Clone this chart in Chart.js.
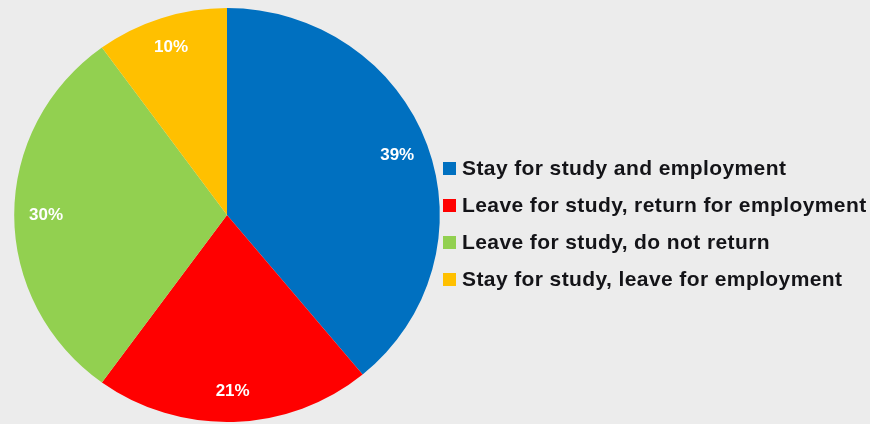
<!DOCTYPE html>
<html>
<head>
<meta charset="utf-8">
<script src="https://cdn.jsdelivr.net/npm/chart.js@4/dist/chart.umd.min.js"></script>
<style>
html,body{margin:0;padding:0;background:#ececec;}
#wrap{width:870px;height:424px;position:relative;}
</style>
</head>
<body>
<div id="wrap"><canvas id="c" width="870" height="424"></canvas></div>
<script>
const categories = [
  "Stay for study and employment",
  "Leave for study, return for employment",
  "Leave for study, do not return",
  "Stay for study, leave for employment"
];
const shares = [39, 21, 30, 10];
const sliceColors = ["#0070C0", "#FF0000", "#92D050", "#FFC000"];

const XSTRETCH = 1.028;

const pieStretch = {
  id: 'pieStretch',
  beforeDatasetsDraw(chart) {
    const ctx = chart.ctx;
    const a = chart.chartArea;
    const cx = (a.left + a.right) / 2;
    ctx.save();
    ctx.translate(cx, 0);
    ctx.scale(XSTRETCH, 1);
    ctx.translate(-cx, 0);
  },
  afterDatasetsDraw(chart) {
    const ctx = chart.ctx;
    ctx.restore();
    // percentage labels
    const meta = chart.getDatasetMeta(0);
    ctx.save();
    ctx.font = 'bold 17px "Liberation Sans", Arial, sans-serif';
    ctx.fillStyle = '#ffffff';
    ctx.textAlign = 'center';
    ctx.textBaseline = 'middle';
    meta.data.forEach((arc, i) => {
      const p = arc.getProps(['x','y','startAngle','endAngle','outerRadius'], true);
      const mid = (p.startAngle + p.endAngle) / 2;
      const r = p.outerRadius * 0.85;
      ctx.fillText(shares[i] + '%', p.x + Math.cos(mid) * r * XSTRETCH, p.y + Math.sin(mid) * r);
    });
    ctx.restore();
  },
  afterDraw(chart) {
    // legend
    const ctx = chart.ctx;
    const meta = chart.getDatasetMeta(0);
    ctx.save();
    ctx.font = 'bold 21px "Liberation Sans", Arial, sans-serif';
    try { ctx.letterSpacing = '0.4px'; } catch (e) {}
    ctx.textAlign = 'left';
    ctx.textBaseline = 'alphabetic';
    const x0 = 443, y0 = 167, step = 37;
    categories.forEach((lab, i) => {
      const cy = y0 + step * i;
      ctx.fillStyle = meta.data[i].options.backgroundColor;
      ctx.fillRect(x0, cy - 5, 13, 13);
      ctx.fillStyle = '#141418';
      ctx.fillText(lab, x0 + 19, cy + 8);
    });
    ctx.restore();
  }
};

new Chart(document.getElementById('c'), {
  type: 'pie',
  data: {
    labels: categories,
    datasets: [{
      data: shares,
      backgroundColor: sliceColors,
      borderWidth: 0
    }]
  },
  options: {
    responsive: false,
    animation: false,
    layout: { padding: { top: 8, bottom: 2, left: 16, right: 432 } },
    plugins: {
      tooltip: { enabled: false },
      legend: { display: false }
    }
  },
  plugins: [pieStretch]
});
</script>
</body>
</html>
